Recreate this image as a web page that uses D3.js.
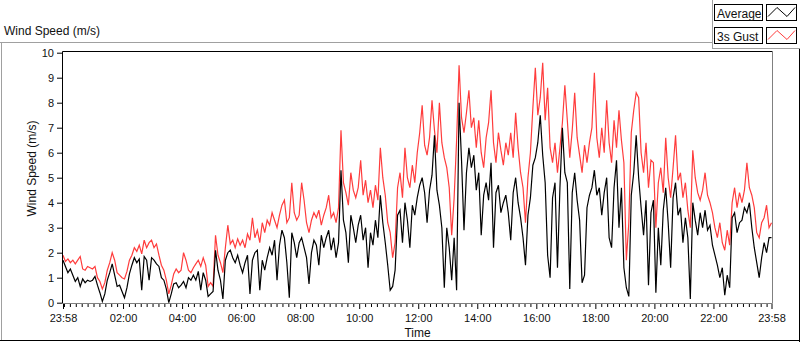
<!DOCTYPE html>
<html>
<head>
<meta charset="utf-8">
<script src="https://cdn.jsdelivr.net/npm/d3@7"></script>
<style>
  html, body { margin: 0; padding: 0; background: #ffffff; }
  svg { display: block; font-family: "Liberation Sans", Arial, sans-serif; }
</style>
</head>
<body>
<svg id="chart" width="800" height="342"></svg>
<script>
// ---- data (5-minute samples from 23:58 to 23:58) ----
const stepMinutes = 5;
const gust = [
  1.9, 1.65, 1.75, 1.6, 1.7, 1.55, 1.7, 1.85, 1.35, 1.3, 1.45, 1.4,
  1.35, 1.45, 1.0, 0.85, 0.55, 0.8, 1.3, 1.6, 2.0, 1.7, 1.2, 1.1,
  1.0, 0.95, 1.25, 1.7, 1.9, 2.2, 2.05, 2.3, 1.95, 2.5, 2.2, 2.4,
  2.5, 2.2, 2.35, 1.9, 1.5, 1.3, 0.9, 0.35, 0.7, 1.15, 1.35, 1.2,
  1.3, 2.0, 1.7, 1.3, 1.2, 1.4, 1.55, 1.7, 1.45, 1.8, 1.5, 0.65,
  0.8, 0.65, 2.7, 1.9, 1.6, 1.2, 2.2, 3.1, 2.35, 2.5, 2.2, 2.55,
  2.3, 2.5, 2.2, 2.75, 2.5, 3.4, 2.6, 2.9, 2.4, 3.2, 2.8, 3.3,
  3.1, 3.6, 3.3, 3.0, 3.5, 3.9, 4.1, 3.2, 3.4, 4.8, 3.6, 3.3,
  3.5, 4.8, 4.1, 3.2, 2.8, 3.3, 3.6, 3.4, 3.7, 3.1, 3.5, 3.8,
  4.3, 3.4, 3.6, 3.2, 3.8, 6.9, 4.8, 4.4, 3.9, 5.2, 4.5, 4.2,
  4.6, 5.7, 4.3, 4.9, 4.0, 4.5, 3.8, 4.7, 4.1, 6.2, 5.0, 4.3,
  3.2, 2.8, 1.8, 2.4, 4.6, 5.2, 4.2, 6.2, 5.0, 4.6, 5.5, 4.8,
  6.0, 6.8, 7.9, 6.3, 5.9, 6.6, 8.1, 6.9, 6.0, 8.0, 6.4, 5.8,
  5.4, 4.6, 2.7, 4.2, 6.5, 9.5, 7.4, 6.8, 7.6, 8.5, 7.0, 7.4,
  6.2, 7.3, 6.0, 5.4, 6.6, 7.2, 8.5, 6.4, 5.6, 6.8, 6.1, 5.5,
  6.4, 5.9, 6.8, 5.8, 7.6, 6.2, 5.2, 4.6, 3.2, 5.0, 6.0, 7.8,
  9.4, 7.5, 8.2, 9.6, 7.3, 8.6, 6.2, 5.6, 6.4, 5.2, 6.2, 7.2,
  8.7, 7.3, 5.8, 6.9, 8.4, 6.6, 5.9, 5.2, 6.3, 5.6, 6.4, 7.0,
  9.2, 6.6, 5.8, 7.0, 6.0, 8.1, 6.4, 5.6, 7.3, 6.2, 7.7, 6.5,
  5.6, 1.7, 3.2, 6.8, 7.7, 8.4, 8.2, 6.0, 5.2, 6.4, 4.6, 5.7,
  5.6, 3.0, 4.8, 5.4, 4.4, 6.6, 5.0, 4.2, 5.4, 6.7, 4.9, 5.2,
  4.2, 4.8, 3.7, 3.0, 6.1, 5.0, 4.4, 4.1, 4.5, 5.2, 4.3, 4.0,
  3.6, 3.0, 2.6, 3.2, 2.4, 2.1, 2.9, 2.3, 4.0, 4.6, 3.8, 4.4,
  4.0, 4.5, 5.6, 4.6, 4.3, 3.8, 2.8, 2.6, 3.2, 3.4, 3.9, 3.0, 3.2
];
const average = [
  1.7, 1.45, 1.2, 1.35, 1.1, 0.85, 1.0, 0.65, 0.95, 0.8, 0.9, 0.85,
  0.9, 1.05, 0.7, 0.4, 0.05, 0.35, 0.9, 1.2, 1.55, 1.1, 0.65, 0.7,
  0.45, 0.2, 0.6, 1.15, 1.5, 1.8, 1.6, 1.75, 0.5, 1.85, 1.7, 0.9,
  1.8, 1.7, 1.55, 1.45, 1.0, 0.9, 0.55, 0.0, 0.35, 0.75, 0.8, 0.6,
  0.7, 0.85, 0.6, 1.0, 0.9, 1.1, 0.9, 1.25, 0.5, 1.2, 0.9, 0.25,
  0.35, 0.45, 2.1, 1.3, 0.9, 0.15, 1.7, 2.0, 2.1, 1.8, 1.6, 1.9,
  1.5, 1.2, 1.6, 1.9, 0.35, 1.7, 2.0, 2.1, 0.5, 1.7, 1.3, 1.8,
  2.2, 1.9, 2.5, 0.9, 2.3, 2.9, 2.6, 1.6, 0.2, 2.8, 2.4, 1.8,
  2.4, 2.6, 2.2, 1.8, 0.75, 2.0, 2.5, 2.3, 1.5, 2.7, 2.2, 2.6,
  2.9, 2.1, 2.6, 1.8, 2.4, 5.3, 3.3, 2.8, 1.6, 3.5, 3.0, 2.4,
  3.1, 3.5, 2.5, 3.0, 1.4, 2.8, 2.3, 3.3, 2.6, 4.3, 3.2, 2.4,
  1.5, 0.5, 0.65, 1.3, 3.5, 3.7, 2.4, 4.0, 3.3, 2.2, 3.9, 3.5,
  4.2, 4.7, 5.0, 4.4, 3.2, 4.5, 5.1, 6.7, 4.5, 3.9, 3.0, 0.6,
  3.0, 2.2, 0.9, 2.6, 0.5, 8.0, 5.7, 2.9, 5.2, 6.2, 5.4, 5.9,
  4.5, 5.2, 2.7, 4.3, 4.8, 4.1, 5.6, 2.2, 4.4, 4.7, 3.6, 4.0,
  4.3, 3.6, 2.5, 4.4, 5.0, 4.0, 3.4, 2.6, 1.5, 3.5, 4.2, 5.5,
  5.8, 6.4, 7.5, 5.9, 4.8, 1.9, 1.0, 4.2, 4.8, 1.4, 4.6, 7.0,
  5.2, 4.8, 0.55, 4.4, 5.2, 4.1, 3.3, 0.8, 1.1, 3.8, 4.3, 4.6,
  5.3, 4.3, 4.6, 3.5, 4.4, 5.0, 2.6, 2.2, 4.6, 5.7, 3.0, 4.6,
  1.4, 0.6, 0.25, 4.3, 5.2, 6.7, 5.0, 3.8, 2.7, 4.1, 0.7, 3.6,
  4.1, 0.4, 3.0, 1.5, 3.7, 4.6, 3.2, 1.4, 4.2, 4.8, 3.5, 3.8,
  2.4, 3.4, 2.6, 0.15, 4.0, 3.3, 2.7, 3.6, 3.0, 3.7, 2.9, 3.1,
  2.3, 1.9, 1.5, 1.0, 1.4, 0.3, 1.1, 0.6, 3.4, 3.6, 2.8, 3.2,
  3.3, 3.8, 3.6, 4.0, 3.0, 2.2, 1.6, 1.0, 1.8, 2.4, 2.0, 2.6, 2.6
];
const timeTickMinutes = [0, 122, 242, 362, 482, 602, 722, 842, 962, 1082, 1202, 1322, 1440];
const timeTickLabels = ["23:58", "02:00", "04:00", "06:00", "08:00", "10:00", "12:00", "14:00", "16:00", "18:00", "20:00", "22:00", "23:58"];
const yTicks = [0, 1, 2, 3, 4, 5, 6, 7, 8, 9, 10];
const seriesNames = ["Average", "3s Gust"];
const seriesColors = ["#000000", "#ff3c3c"];

// ---- layout ----
const svg = d3.select("#chart");
const plot = { left: 62.5, right: 772.5, top: 51.5, bottom: 303.5 };
const x = d3.scaleLinear().domain([0, 1440]).range([63, 771.5]);
const y = d3.scaleLinear().domain([0, 10]).range([302.7, 52.7]);

// outer frame
svg.append("line").attr("x1", 0).attr("x2", 712).attr("y1", 42.5).attr("y2", 42.5).attr("stroke", "#a0a0a0");
svg.append("line").attr("x1", 1.5).attr("x2", 1.5).attr("y1", 42).attr("y2", 341).attr("stroke", "#a0a0a0");
svg.append("line").attr("x1", 0).attr("x2", 800).attr("y1", 340.5).attr("y2", 340.5).attr("stroke", "#000");
svg.append("line").attr("x1", 799.5).attr("x2", 799.5).attr("y1", 48).attr("y2", 342).attr("stroke", "#000");

// legend container
svg.append("line").attr("x1", 712.5).attr("x2", 712.5).attr("y1", 0).attr("y2", 48.5).attr("stroke", "#a0a0a0");
svg.append("line").attr("x1", 712).attr("x2", 800).attr("y1", 48.5).attr("y2", 48.5).attr("stroke", "#a0a0a0");

// title
svg.append("text").attr("x", 4).attr("y", 35).attr("font-size", 12).attr("fill", "#111").text("Wind Speed (m/s)");

// plot background & frame
svg.append("rect").attr("x", plot.left).attr("y", plot.top).attr("width", plot.right - plot.left).attr("height", plot.bottom - plot.top).attr("fill", "#fff");

const clip = svg.append("defs").append("clipPath").attr("id", "clip");
clip.append("rect").attr("x", plot.left).attr("y", plot.top).attr("width", plot.right - plot.left).attr("height", plot.bottom - plot.top);

const pts = (arr) => arr.map((v, i) => [i * stepMinutes, v]);
const line = d3.line().x(d => x(d[0])).y(d => y(d[1]));

const g = svg.append("g").attr("clip-path", "url(#clip)");
g.append("path").attr("d", line(pts(gust))).attr("fill", "none").attr("stroke", seriesColors[1])
  .attr("stroke-width", 1.2).attr("stroke-linejoin", "miter");
g.append("path").attr("d", line(pts(average))).attr("fill", "none").attr("stroke", seriesColors[0])
  .attr("stroke-width", 1.2).attr("stroke-linejoin", "miter");

svg.append("line").attr("x1", plot.left).attr("x2", plot.right).attr("y1", plot.top).attr("y2", plot.top).attr("stroke", "#000");
svg.append("line").attr("x1", plot.left).attr("x2", plot.left).attr("y1", plot.top).attr("y2", plot.bottom).attr("stroke", "#000");
svg.append("line").attr("x1", plot.left).attr("x2", plot.right).attr("y1", plot.bottom).attr("y2", plot.bottom).attr("stroke", "#808080");
svg.append("line").attr("x1", plot.right).attr("x2", plot.right).attr("y1", plot.top).attr("y2", plot.bottom).attr("stroke", "#808080");

// y axis
const yAxis = d3.axisLeft(y).tickValues(yTicks).tickSize(5).tickPadding(3).tickFormat(d3.format("d"));
const yg = svg.append("g").attr("transform", `translate(${plot.left - 0.5},0)`).call(yAxis);
yg.select(".domain").remove();
yg.selectAll("text").attr("font-size", 11).attr("font-family", "Liberation Sans, Arial, sans-serif").attr("fill", "#111");
yg.selectAll("line").attr("stroke", "#000");

// x axis minor ticks
const minor = d3.range(2, 1440, 12).filter(m => !timeTickMinutes.includes(m));
const xMinor = d3.axisBottom(x).tickValues(minor).tickSize(3).tickFormat("");
const xmg = svg.append("g").attr("transform", `translate(0,${plot.bottom + 0.5})`).call(xMinor);
xmg.select(".domain").remove();
xmg.selectAll("line").attr("stroke", "#000");

// x axis major ticks
const xAxis = d3.axisBottom(x).tickValues(timeTickMinutes).tickSize(5).tickPadding(5)
  .tickFormat((d, i) => timeTickLabels[i]);
const xg = svg.append("g").attr("transform", `translate(0,${plot.bottom + 0.5})`).call(xAxis);
xg.select(".domain").remove();
xg.selectAll("line").attr("stroke", "#000");
xg.selectAll("text").attr("font-size", 11).attr("font-family", "Liberation Sans, Arial, sans-serif").attr("fill", "#111");

// axis titles
svg.append("text").attr("x", (plot.left + plot.right) / 2).attr("y", 337).attr("text-anchor", "middle")
  .attr("font-size", 12).attr("fill", "#111").text("Time");
svg.append("text").attr("transform", "translate(36,168.5) rotate(-90)").attr("text-anchor", "middle")
  .attr("font-size", 12).attr("fill", "#111").text("Wind Speed (m/s)");

// legend
const legendRows = [0, 1];
const lg = svg.append("g");
legendRows.forEach(i => {
  const top = 4.5 + i * 23;
  lg.append("rect").attr("x", 714.5).attr("y", top).attr("width", 48).attr("height", 16).attr("fill", "#fff").attr("stroke", "#000");
  lg.append("text").attr("x", 717).attr("y", top + 13).attr("font-size", 12).attr("fill", "#111").text(seriesNames[i]);
  lg.append("rect").attr("x", 766.5).attr("y", top).attr("width", 30).attr("height", 16).attr("fill", "#fff").attr("stroke", "#000");
  const zig = [[768, top + 12], [777, top + 3], [787, top + 12], [795, top + 3]];
  lg.append("path").attr("d", d3.line()(zig)).attr("fill", "none").attr("stroke", seriesColors[i]).attr("stroke-width", 1);
});
</script>
</body>
</html>
